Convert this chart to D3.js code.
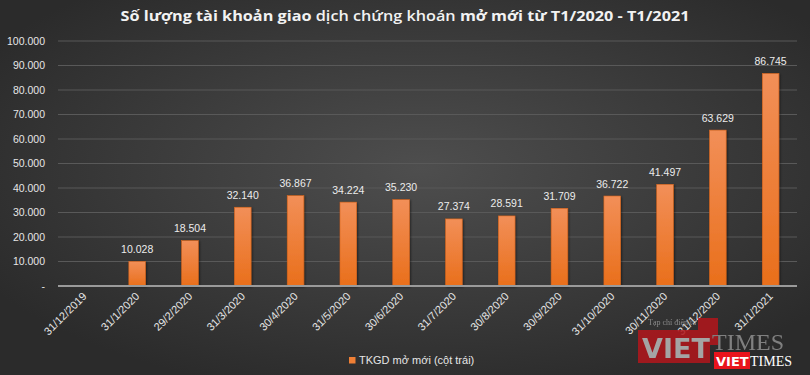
<!DOCTYPE html>
<html><head><meta charset="utf-8">
<script src="https://cdn.jsdelivr.net/npm/d3@7"></script>
<style>html,body{margin:0;padding:0;background:#333;}svg{display:block;}</style>
</head><body>
<script>
const categories = ["31/12/2019","31/1/2020","29/2/2020","31/3/2020","30/4/2020","31/5/2020","30/6/2020","31/7/2020","30/8/2020","30/9/2020","31/10/2020","30/11/2020","31/12/2020","31/1/2021"];
const values = [null,10028,18504,32140,36867,34224,35230,27374,28591,31709,36722,41497,63629,86745];
const yTicks = [0,10000,20000,30000,40000,50000,60000,70000,80000,90000,100000];
const seriesName = "TKGD mở mới (cột trái)";
const titleParts = [
  {t:"Số lượng tài khoản giao ", w:"bold"},
  {t:"dịch chứng khoán ", w:"600"},
  {t:"mở ", w:"bold"},
  {t:"mới từ T1/2020 - T1/2021", w:"bold"}
];

const W=810,H=375;
const FONT="'Liberation Sans',Arial,sans-serif";
const loc = d3.formatLocale({decimal:",",thousands:".",grouping:[3],currency:["",""]});
const fmt = loc.format(",d");

const svg = d3.select("body").append("svg").attr("width",W).attr("height",H);
const defs = svg.append("defs");
const bg = defs.append("radialGradient").attr("id","bg").attr("cx","52%").attr("cy","45%").attr("r","62%");
bg.append("stop").attr("offset","0%").attr("stop-color","#4e4e4e");
bg.append("stop").attr("offset","100%").attr("stop-color","#2b2b2b");
const bar = defs.append("linearGradient").attr("id","bar").attr("x1",0).attr("y1",0).attr("x2",0).attr("y2",1);
bar.append("stop").attr("offset","0%").attr("stop-color","#f28f58");
bar.append("stop").attr("offset","100%").attr("stop-color","#e96f1b");
const sh = defs.append("filter").attr("id","sh").attr("x","-50%").attr("y","-10%").attr("width","200%").attr("height","120%");
sh.append("feDropShadow").attr("dx",1).attr("dy",1).attr("stdDeviation",1.2).attr("flood-color","#000").attr("flood-opacity",0.5);

svg.append("rect").attr("width",W).attr("height",H).attr("fill","url(#bg)");

const x = d3.scaleBand().domain(categories).range([58,797]).paddingInner(0.685).paddingOuter(0.3425);
const y = d3.scaleLinear().domain([0,100000]).range([286,41]);

// gridlines
svg.append("g").selectAll("line").data(yTicks.filter(d=>d>0)).join("line")
  .attr("x1",58).attr("x2",797).attr("y1",d=>y(d)).attr("y2",d=>y(d))
  .attr("stroke","#595959").attr("stroke-width",1);

// y axis labels
const yAxis = svg.append("g").attr("transform","translate(58,0)")
  .call(d3.axisLeft(y).tickValues(yTicks).tickSize(0).tickPadding(13).tickFormat(d=>d===0?"-":fmt(d)));
yAxis.select(".domain").remove();
yAxis.selectAll("text").attr("fill","#e6e6e6").style("font-family",FONT).style("font-size","10.5px");

// bars
const data = categories.map((c,i)=>({c, v:values[i]})).filter(d=>d.v!=null);
svg.append("g").selectAll("rect").data(data).join("rect")
  .attr("x",d=>x(d.c)).attr("width",x.bandwidth())
  .attr("y",d=>y(d.v)).attr("height",d=>y(0)-y(d.v))
  .attr("fill","url(#bar)").attr("stroke","#d9651c").attr("stroke-width",0.6)
  .attr("filter","url(#sh)");

// baseline
svg.append("line").attr("x1",58).attr("x2",797).attr("y1",y(0)).attr("y2",y(0))
  .attr("stroke","#9a9a9a").attr("stroke-width",2);

// value labels
svg.append("g").selectAll("text").data(data).join("text")
  .attr("x",d=>x(d.c)+x.bandwidth()/2).attr("y",d=>y(d.v)-8.5)
  .attr("text-anchor","middle").attr("fill","#ececec")
  .style("font-family",FONT).style("font-size","10.5px")
  .text(d=>fmt(d.v));

// x axis labels
const xAxis = svg.append("g").attr("transform",`translate(0,${y(0)})`)
  .call(d3.axisBottom(x).tickSize(0).tickPadding(0));
xAxis.select(".domain").remove();
xAxis.selectAll("text")
  .attr("fill","#e6e6e6").style("font-family",FONT).style("font-size","11px")
  .attr("text-anchor","end").attr("dy",0).attr("y",0)
  .attr("transform","translate(3,11) rotate(-45)");

// title
const title = svg.append("text").attr("x",W/2).attr("y",21).attr("text-anchor","middle")
  .attr("fill","#f2f2f2").style("font-family","'Open Sans',sans-serif").style("font-size","14.5px");
title.selectAll("tspan").data(titleParts).join("tspan").attr("font-weight",d=>d.w).text(d=>d.t);
title.attr("textLength",569).attr("lengthAdjust","spacingAndGlyphs");

// legend
const lg = svg.append("g").attr("transform","translate(349,357)");
lg.append("rect").attr("width",6.5).attr("height",6.5).attr("fill","#ef7f35");
lg.append("text").attr("x",10).attr("y",7).attr("fill","#e6e6e6")
  .style("font-family",FONT).style("font-size","11px").text(seriesName);

// watermark
const wm = svg.append("g").attr("opacity",0.85);
wm.append("rect").attr("x",638).attr("y",330).attr("width",72).attr("height",33).attr("fill","#b3161c");
wm.append("path").attr("d","M698,318 L718,318 L718,345 L710,345 L710,330 L698,330 Z").attr("fill","#b3161c");
wm.append("text").attr("x",642).attr("y",358).attr("fill","#b9b9b9").style("font-family","'DejaVu Sans',sans-serif").style("font-weight","bold").style("font-size","27px").text("VIET");
wm.append("text").attr("x",712).attr("y",350).attr("fill","#8f8f8f").style("font-family","'Liberation Serif',serif").style("font-size","24px").text("TIMES");
wm.append("text").attr("x",648).attr("y",325).attr("fill","#9a9a9a").style("font-family","'Liberation Serif',serif").style("font-size","8px").text("Tạp chí điện tử");
const wm2 = svg.append("g");
wm2.append("rect").attr("x",714).attr("y",352).attr("width",36).attr("height",17).attr("fill","#e8141c");
wm2.append("text").attr("x",716).attr("y",366).attr("fill","#ffffff").style("font-family","'DejaVu Sans',sans-serif").style("font-weight","bold").style("font-size","13px").text("VIET");
wm2.append("text").attr("x",750).attr("y",366).attr("fill","#ffffff").style("font-family","'Liberation Serif',serif").style("font-size","14px").text("TIMES");
</script>
</body></html>
